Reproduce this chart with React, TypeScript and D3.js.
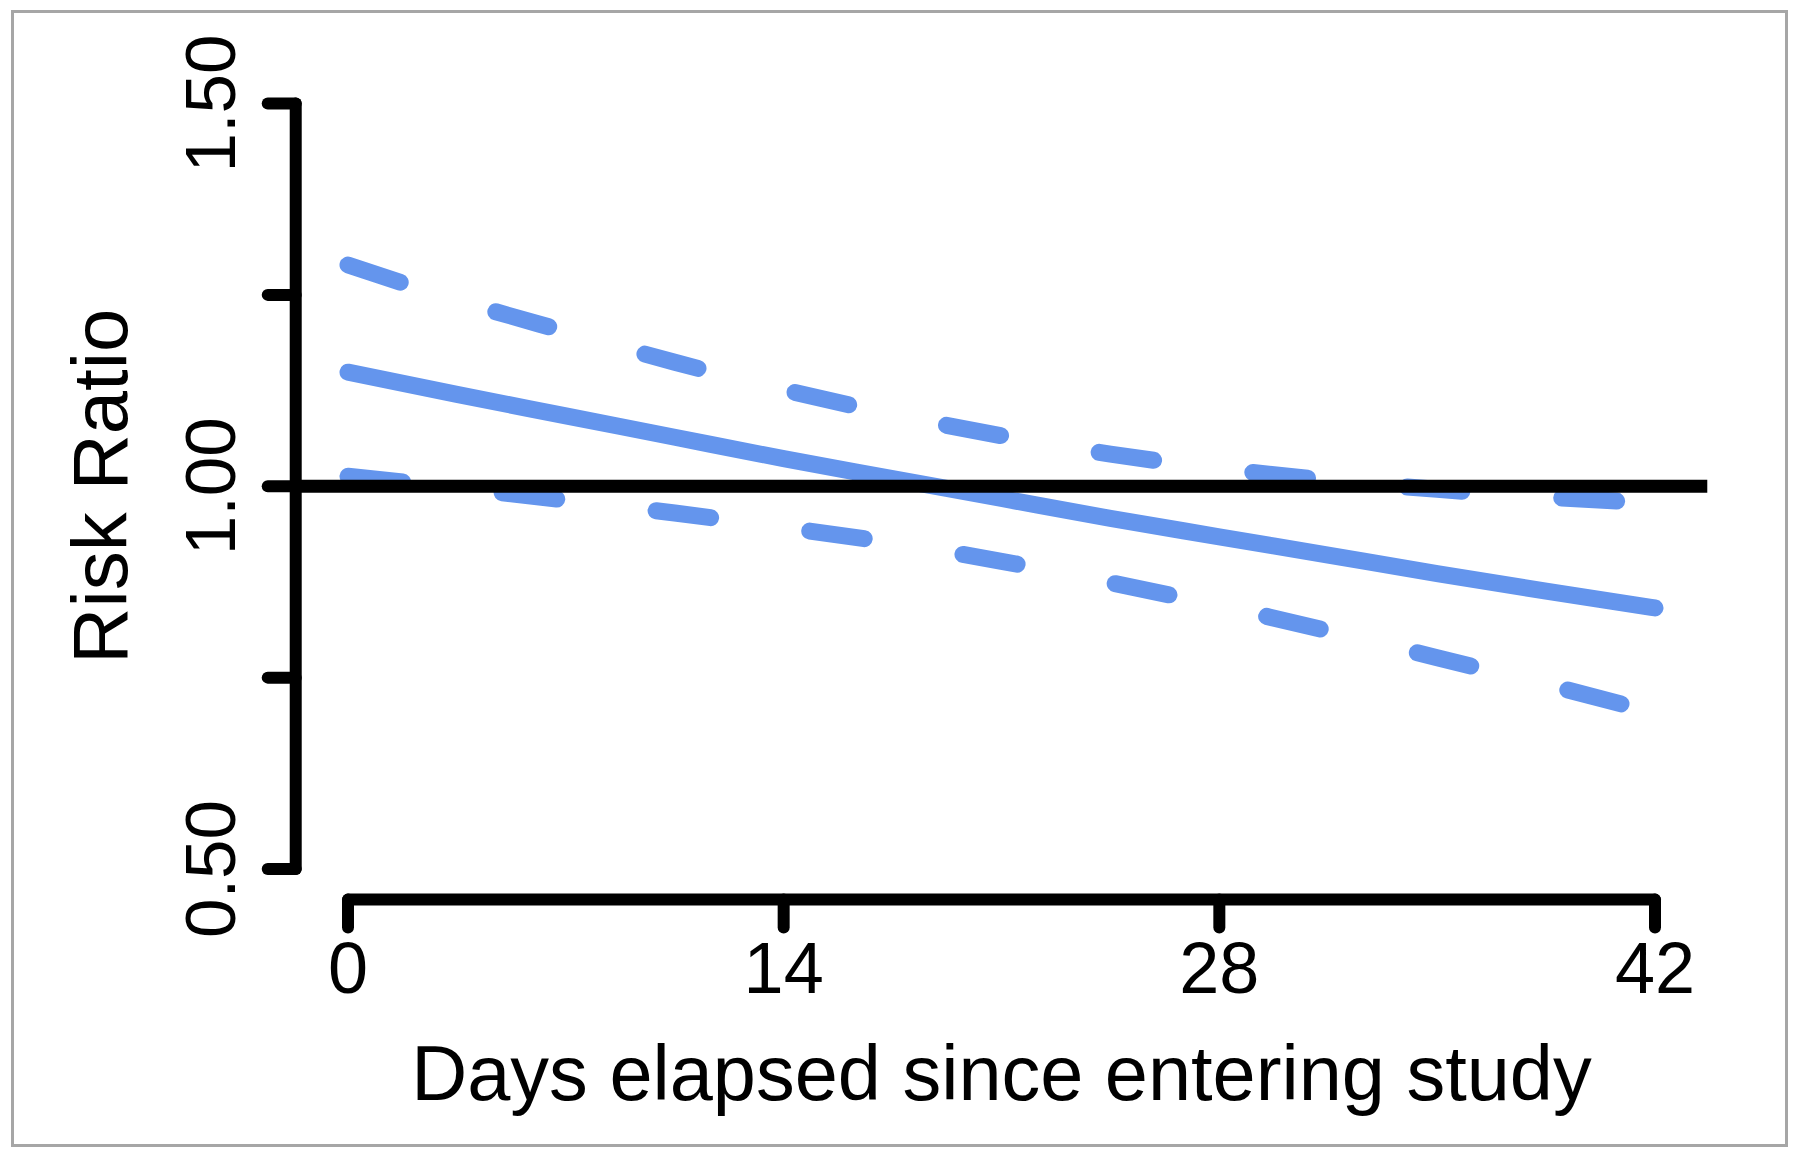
import React from "react";
import * as d3 from "d3";

const days = [0, 3.5, 7, 10.5, 14, 17.5, 21, 24.5, 28, 31.5, 35, 38.5, 42];
const estimate = [1.149, 1.120, 1.092, 1.064, 1.036, 1.010, 0.984, 0.958, 0.934, 0.910, 0.886, 0.863, 0.841];
const upper = [1.289, 1.243, 1.202, 1.162, 1.126, 1.094, 1.066, 1.042, 1.023, 1.008, 0.996, 0.986, 0.978];
const lower = [1.013, 0.998, 0.982, 0.965, 0.946, 0.926, 0.902, 0.874, 0.844, 0.811, 0.776, 0.741, 0.704];

const xTicks = [0, 14, 28, 42];
const xTickLabels = ["0", "14", "28", "42"];
const yTicks = [0.5, 0.75, 1.0, 1.25, 1.5];
const yLabelTicks = [0.5, 1.0, 1.5];
const yTickLabels = ["0.50", "1.00", "1.50"];
const refValue = 1.0;

const xTitle = "Days elapsed since entering study";
const yTitle = "Risk Ratio";

const W = 1800;
const H = 1160;
const BLUE = "#6495ED";
const FONT = "'Liberation Sans', Arial, Helvetica, sans-serif";

export default function App() {
  const x = d3.scaleLinear().domain([0, 42]).range([348, 1655]);
  const y = d3.scaleLinear().domain([0.5, 1.5]).range([869, 103.5]);
  const xPad = 42 * 0.04;
  const yPad = 1.0 * 0.04;
  const plotLeft = x(-xPad);
  const plotRight = x(42 + xPad);
  const plotBottom = y(0.5 - yPad);

  const line = d3
    .line<number>()
    .x((_, i) => x(days[i]))
    .y((d) => y(d))
    .curve(d3.curveMonotoneX);

  const axisW = 12;
  const blueW = 17;

  return (
    <svg
      width={W}
      height={H}
      viewBox={`0 0 ${W} ${H}`}
      style={{ position: "absolute", left: 0, top: 0, background: "#fff" }}
    >
      <rect x={0} y={0} width={W} height={H} fill="#fff" />
      <rect x={12.5} y={11.5} width={1774} height={1134} fill="none" stroke="#a6a6a6" strokeWidth={3} />

      {/* CI and estimate lines */}
      <path d={line(upper) || ""} fill="none" stroke={BLUE} strokeWidth={blueW} strokeLinecap="round" strokeDasharray="55 100" />
      <path d={line(lower) || ""} fill="none" stroke={BLUE} strokeWidth={blueW} strokeLinecap="round" strokeDasharray="55 100" />
      <path d={line(estimate) || ""} fill="none" stroke={BLUE} strokeWidth={blueW} strokeLinecap="round" />

      {/* reference line */}
      <line x1={plotLeft} x2={plotRight} y1={y(refValue)} y2={y(refValue)} stroke="#000" strokeWidth={13} />

      {/* y axis */}
      <g stroke="#000" strokeWidth={axisW} strokeLinecap="round">
        <line x1={plotLeft} x2={plotLeft} y1={y(0.5)} y2={y(1.5)} />
        {yTicks.map((t) => (
          <line key={t} x1={plotLeft} x2={plotLeft - 28} y1={y(t)} y2={y(t)} />
        ))}
      </g>
      {yLabelTicks.map((t, i) => (
        <text
          key={t}
          transform={`translate(235,${y(t)}) rotate(-90)`}
          textAnchor="middle"
          fontFamily={FONT}
          fontSize={71}
          fill="#000"
        >
          {yTickLabels[i]}
        </text>
      ))}

      {/* x axis */}
      <g stroke="#000" strokeWidth={axisW} strokeLinecap="round">
        <line x1={x(0)} x2={x(42)} y1={plotBottom} y2={plotBottom} />
        {xTicks.map((t) => (
          <line key={t} x1={x(t)} x2={x(t)} y1={plotBottom} y2={plotBottom + 28} />
        ))}
      </g>
      {xTicks.map((t, i) => (
        <text key={t} x={x(t)} y={993} textAnchor="middle" fontFamily={FONT} fontSize={72} fill="#000">
          {xTickLabels[i]}
        </text>
      ))}

      {/* axis titles */}
      <text x={(plotLeft + plotRight) / 2} y={1100} textAnchor="middle" fontFamily={FONT} fontSize={77.5} fill="#000">
        {xTitle}
      </text>
      <text
        transform={`translate(127,${(y(0.5) + y(1.5)) / 2}) rotate(-90)`}
        textAnchor="middle"
        fontFamily={FONT}
        fontSize={78}
        fill="#000"
      >
        {yTitle}
      </text>
    </svg>
  );
}
